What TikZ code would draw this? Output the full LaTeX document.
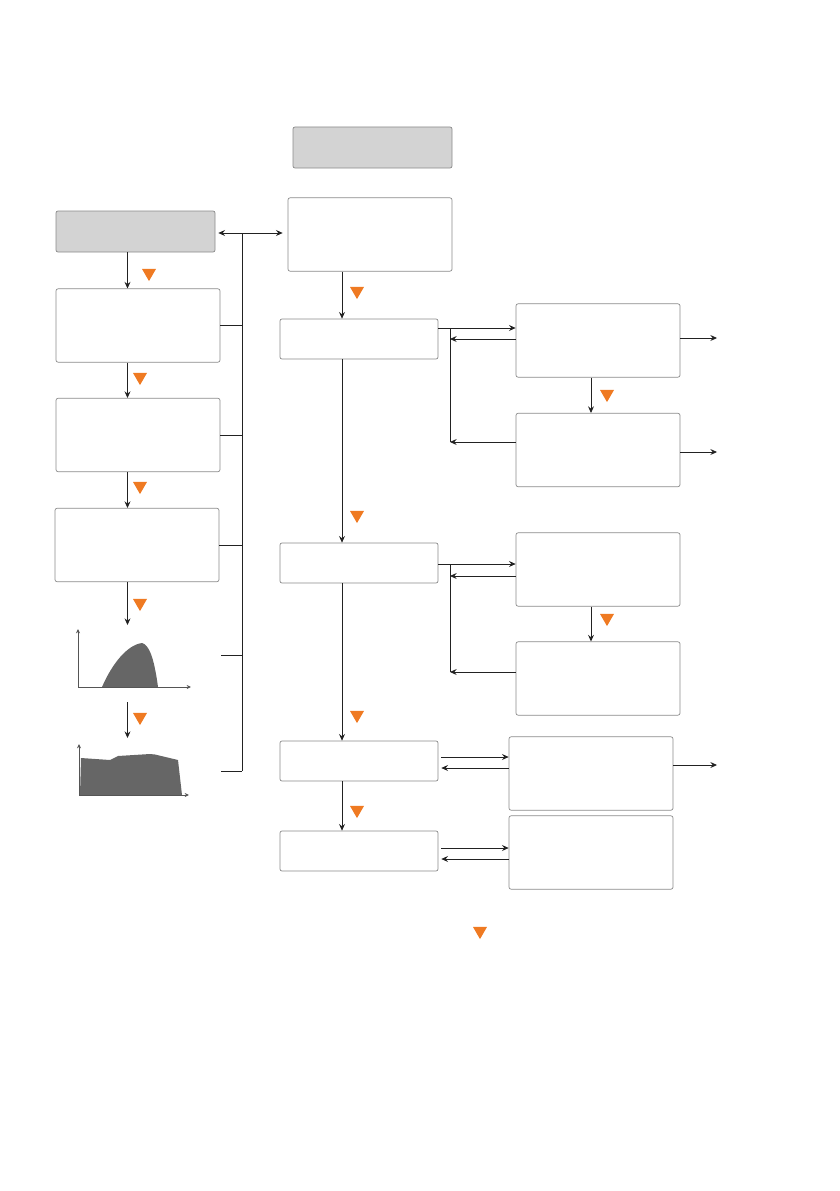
\documentclass[tikz,border=0pt]{standalone}
\usetikzlibrary{arrows.meta, positioning, shapes.geometric, calc}
\definecolor{boxgray}{HTML}{D3D3D3}
\definecolor{framegray}{HTML}{8A8A8A}
\definecolor{markorange}{HTML}{EF7A22}
\definecolor{plotgray}{HTML}{666666}
\definecolor{linegray}{HTML}{222222}
\definecolor{axisgray}{HTML}{555555}

\begin{document}
\begin{tikzpicture}[
  x=0.3mm, y=-0.3mm,
  box/.style={draw=framegray, line width=0.6pt, rounded corners=0.6mm, fill=white, inner sep=0pt},
  graybox/.style={box, fill=boxgray, minimum width=47.7mm, minimum height=12.3mm},
  tallbox/.style={box, minimum width=49.2mm, minimum height=22mm},
  flatbox/.style={box, minimum width=47.4mm, minimum height=12mm},
  tri/.style={regular polygon, regular polygon sides=3, shape border rotate=180, fill=markorange, inner sep=0pt, minimum size=4.85mm},
  link/.style={line width=0.7pt, draw=linegray},
  arrow/.style={link, -{Stealth[length=2mm, width=1.8mm, inset=0.7mm]}},
  dbl/.style={link, {Stealth[length=2mm, width=1.8mm, inset=0.7mm]}-{Stealth[length=2mm, width=1.8mm, inset=0.7mm]}},
  axis/.style={draw=axisgray, line width=0.6pt, -{Stealth[length=1.3mm, width=1.2mm]}}
  ]
\useasboundingbox (0,0) rectangle (839,1191);

% Nodes
\node[graybox] (topg) at (372.5,147.5) {};
\node[graybox] (leftg) at (135.5,231.5) {};
\node[tallbox] (c0) at (370,234.5) {};
\node[tallbox] (l1) at (138,325.5) {};
\node[tallbox] (l2) at (138,435) {};
\node[tallbox] (l3) at (137,545) {};
\node[flatbox] (c1) at (359,339) {};
\node[flatbox] (c2) at (359,563) {};
\node[flatbox] (c3) at (359,761) {};
\node[flatbox] (c4) at (359,851) {};
\node[tallbox] (r1) at (598,340.5) {};
\node[tallbox] (r2) at (598,450) {};
\node[tallbox] (r3) at (598,569.5) {};
\node[tallbox] (r4) at (598,678.5) {};
\node[tallbox] (r5) at (591,773.5) {};
\node[tallbox] (r6) at (591,852.5) {};

% Orange markers
\node[tri] (t1) at (149,273) {};
\node[tri] (t2) at (140,377) {};
\node[tri] (t3) at (140,486) {};
\node[tri] (t4) at (140,603) {};
\node[tri] (t5) at (140,717) {};
\node[tri] (t6) at (357,291) {};
\node[tri] (t7) at (357,515) {};
\node[tri] (t8) at (357,715) {};
\node[tri] (t9) at (357,810) {};
\node[tri] (t10) at (607,394) {};
\node[tri] (t11) at (607,618) {};
\node[tri] (t12) at (480,931) {};

% Helper coordinates
\coordinate (lx) at (127.5,0);
\coordinate (cx) at (342,0);
\coordinate (rx) at (591,0);
\coordinate (jx) at (450,0);
\coordinate (ox) at (717,0);
\coordinate (bus) at (242,233);
\coordinate (busend) at (242,771);
\coordinate (plota) at (127.5,625);
\coordinate (plotb) at (127.5,702);
\coordinate (plotc) at (127.5,738);
\coordinate (pe1) at (221,655);
\coordinate (pe2) at (221,771);

% Plots
\fill[plotgray] (102,687) .. controls (112,664) and (127,645) .. (142,643)
  .. controls (149,645) and (154,657) .. (158,687) -- cycle;
\draw[axis] (78,687) -- (78,629);
\draw[axis] (78,687) -- (191,687);
\fill[plotgray] (80,795) -- (81,758) -- (110,760) -- (118,756) -- (150,754)
  -- (155,754.5) -- (178,760) -- (182,795) -- cycle;
\draw[axis] (79,795) -- (79,744);
\draw[axis] (79,795) -- (189,795);

% Arrows, left column
\draw[arrow] (leftg.south -| lx) -- (l1.north -| lx);
\draw[arrow] (l1.south -| lx) -- (l2.north -| lx);
\draw[arrow] (l2.south -| lx) -- (l3.north -| lx);
\draw[arrow] (l3.south -| lx) -- (plota);
\draw[arrow] (plotb) -- (plotc);
\draw[dbl, shorten <=0.9mm, shorten >=1.5mm] (leftg.east |- bus) -- (c0.west |- bus);
\draw[link] (bus) -- (busend);
\draw[link] (l1.east) -- (l1.east -| bus);
\draw[link] (l2.east) -- (l2.east -| bus);
\draw[link] (l3.east) -- (l3.east -| bus);
\draw[link] (pe1) -- (pe1 -| bus);
\draw[link] (pe2) -- (busend);

% Arrows, middle column
\draw[arrow] (c0.south -| cx) -- (c1.north -| cx);
\draw[arrow] (c1.south -| cx) -- (c2.north -| cx);
\draw[arrow] (c2.south -| cx) -- (c3.north -| cx);
\draw[arrow] (c3.south -| cx) -- (c4.north -| cx);

% Arrows, right column
\draw[arrow] (c1.east |- 0,328) -- (r1.west |- 0,328);
\draw[arrow] (r1.west |- 0,339) -- (jx |- 0,339);
\draw[link] (jx |- 0,328) -- (jx |- 0,442);
\draw[arrow] (r2.west |- 0,442) -- (jx |- 0,442);
\draw[arrow] (r1.south -| rx) -- (r2.north -| rx);
\draw[arrow] (r1.east |- 0,338) -- (ox |- 0,338);
\draw[arrow] (r2.east |- 0,452) -- (ox |- 0,452);

\draw[arrow] (c2.east |- 0,564) -- (r3.west |- 0,564);
\draw[arrow] (r3.west |- 0,576) -- (jx |- 0,576);
\draw[link] (jx |- 0,564) -- (jx |- 0,672);
\draw[arrow] (r4.west |- 0,672) -- (jx |- 0,672);
\draw[arrow] (r3.south -| rx) -- (r4.north -| rx);

\draw[arrow, shorten <=0.9mm] (c3.east |- 0,757) -- (r5.west |- 0,757);
\draw[arrow, shorten >=0.9mm] (r5.west |- 0,768) -- (c3.east |- 0,768);
\draw[arrow] (r5.east |- 0,765) -- (ox |- 0,765);
\draw[arrow, shorten <=0.9mm] (c4.east |- 0,848) -- (r6.west |- 0,848);
\draw[arrow, shorten >=0.9mm] (r6.west |- 0,859) -- (c4.east |- 0,859);

\end{tikzpicture}
\end{document}
